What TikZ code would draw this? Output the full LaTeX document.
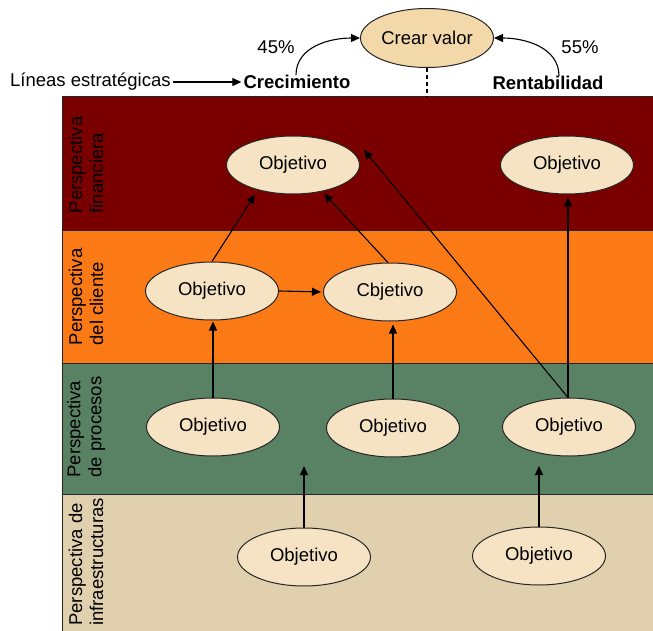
\documentclass[tikz,border=0pt]{standalone}
\usepackage{fontspec}
\setmainfont{Liberation Sans}
\usetikzlibrary{arrows.meta,shapes.geometric}

\definecolor{finband}{HTML}{7A0000}
\definecolor{cliband}{HTML}{FC7A16}
\definecolor{proband}{HTML}{598264}
\definecolor{infband}{HTML}{E0D0AE}
\definecolor{objfill}{HTML}{F5E3C4}
\definecolor{valfill}{HTML}{F3D8AA}

\begin{document}
\begin{tikzpicture}[x=1pt,y=-1pt,
  txt/.style={font=\fontsize{18.5}{21}\selectfont, inner sep=2pt},
  obj/.style={ellipse, draw=black!85, line width=1pt, fill=objfill,
    minimum width=133pt, minimum height=58pt, inner sep=0pt,
    font=\fontsize{18.5}{21}\selectfont},
  link/.style={line width=1.1pt, -{Triangle[length=9pt,width=8pt]}},
  bandline/.style={draw=black!85, line width=1pt},
  lab/.style={rotate=90, align=left, anchor=center,
    font=\fontsize{18.5}{21}\selectfont, inner sep=0pt}]

\useasboundingbox (0,0) rectangle (653,631);
\fill[white] (0,0) rectangle (653,631);

% perspective bands
\fill[finband] (62,97) rectangle (653,230);
\fill[cliband] (62,230) rectangle (653,363);
\fill[proband] (62,363) rectangle (653,494);
\fill[infband] (62,494) rectangle (653,631);
\draw[bandline] (653,97) -- (62,97) -- (62,631);
\draw[bandline] (62,230) -- (653,230);
\draw[bandline] (62,363) -- (653,363);
\draw[bandline] (62,494) -- (653,494);

% band titles
\node[lab] (lfin) at (86,165) {Perspectiva\\financiera};
\node[lab] (lcli) at (86,297) {Perspectiva\\del cliente};
\node[lab] (lpro) at (86,427) {Perspectiva\\de procesos};
\node[lab] (linf) at (86,562) {Perspectiva de\\infraestructuras};

% header: strategic lines and value creation
\node[obj, fill=valfill, minimum height=59pt] (valor) at (427,38) {Crear valor};
\node[txt, anchor=west] (lineas) at (8,82) {Líneas estratégicas};
\node[txt, font=\fontsize{18.5}{21}\selectfont\bfseries] (crec) at (297,82) {Crecimiento};
\node[txt, font=\fontsize{18.5}{21}\selectfont\bfseries] (rent) at (548,83) {Rentabilidad};
\node[txt] (p45) at (276,47) {45\%};
\node[txt] (p55) at (580,47) {55\%};
\coordinate (fintop) at (427,97);

\draw[link] (lineas.east) -- (crec.west);
\draw[link] ([xshift=-1pt,yshift=-2pt]crec.north) to[out=90,in=180] (valor.west);
\draw[link] ([xshift=11pt,yshift=-2pt]rent.north) to[out=90,in=0] (valor.east);
\draw[line width=1.2pt, dash pattern=on 4pt off 3pt] (valor.south) -- (fintop);

% objectives
\node[obj] (f1) at (293,165) {Objetivo};
\node[obj] (f2) at (567,165) {Objetivo};
\node[obj] (c1) at (212,291) {Objetivo};
\node[obj] (c2) at (390,292) {Cbjetivo};
\node[obj] (p1) at (213,427) {Objetivo};
\node[obj] (p2) at (393,428) {Objetivo};
\node[obj] (p3) at (569,427) {Objetivo};
\node[obj] (i1) at (304,557) {Objetivo};
\node[obj] (i2) at (539,556) {Objetivo};

\coordinate (t1) at (304,466);
\coordinate (t2) at (539,466);

% cause-effect links
\draw[link] (c1.north) -- ([xshift=-38pt]f1.south);
\draw[link] ([xshift=-2pt]c2.north) -- ([shift={(31pt,1pt)}]f1.south);
\draw[link, shorten >=2pt] (c1.east) -- (c2.west);
\draw[link, shorten >=1pt] (p1.north) -- (p1.north |- c1.south);
\draw[link, shorten >=3pt] (p2.north) -- (p2.north |- c2.south);
\draw[link, shorten >=3pt] ([xshift=-1pt]p3.north) -- ([xshift=-1pt]p3.north |- f2.south);
\draw[link] ([xshift=-1pt]p3.north) -- ([shift={(4pt,15pt)}]f1.east);
\draw[link] (i1.north) -- (t1);
\draw[link] (i2.north) -- (t2);
\end{tikzpicture}
\end{document}
